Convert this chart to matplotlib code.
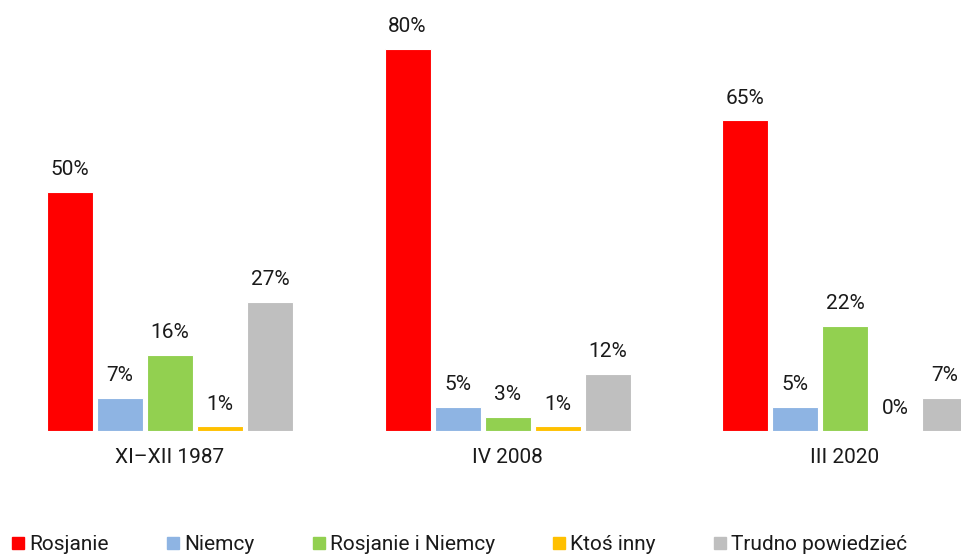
import matplotlib.pyplot as plt
from matplotlib.lines import Line2D
import numpy as np

plt.rcParams['font.family'] = ['Roboto', 'DejaVu Sans']

# dane
okresy = ['XI–XII 1987', 'IV 2008', 'III 2020']
serie = ['Rosjanie', 'Niemcy', 'Rosjanie i Niemcy', 'Ktoś inny', 'Trudno powiedzieć']
rosjanie = [50, 80, 65]
niemcy = [7, 5, 5]
rosjanie_i_niemcy = [16, 3, 22]
ktos_inny = [1, 1, 0]
trudno = [27, 12, 7]
kolory = ['#FF0000', '#8EB4E3', '#92D050', '#FFC000', '#BFBFBF']

wartosci = [rosjanie, niemcy, rosjanie_i_niemcy, ktos_inny, trudno]

fig = plt.figure(figsize=(9.62, 5.55), dpi=100)
ax = fig.add_axes([0, 124 / 555, 1, 430 / 555])

x = np.arange(len(okresy))
krok = 50 / 337.5
szer = 46 / 337.5

for i, (vals, kol) in enumerate(zip(wartosci, kolory)):
    pos = x + (i - 2) * krok
    bars = ax.bar(pos, vals, width=szer, color=kol, edgecolor='white', linewidth=0.8)
    for b, v in zip(bars, vals):
        ax.annotate(f'{v}%', (b.get_x() + b.get_width() / 2, v),
                    xytext=(0, 12), textcoords='offset points',
                    ha='center', va='baseline', fontsize=15, color='#1a1a1a')

ax.set_xlim(-170 / 337.5, (962 - 170) / 337.5)
ax.set_ylim(0, 90)
ax.set_xticks(x)
ax.set_xticklabels(okresy, fontsize=15, color='#1a1a1a')
ax.tick_params(axis='x', length=0, pad=12)
ax.set_yticks([])
for s in ax.spines.values():
    s.set_visible(False)

uchwyty = [Line2D([], [], marker='s', linestyle='none', color=k, markersize=8.5)
           for k in kolory]
fig.legend(uchwyty, serie, loc='center left', bbox_to_anchor=(12 / 962, 10 / 555),
           ncol=5, frameon=False, fontsize=15, handlelength=0.58,
           handletextpad=0.24, columnspacing=2.8, borderpad=0, borderaxespad=0,
           labelcolor='#1a1a1a')

fig.savefig('out.png', dpi=100)
